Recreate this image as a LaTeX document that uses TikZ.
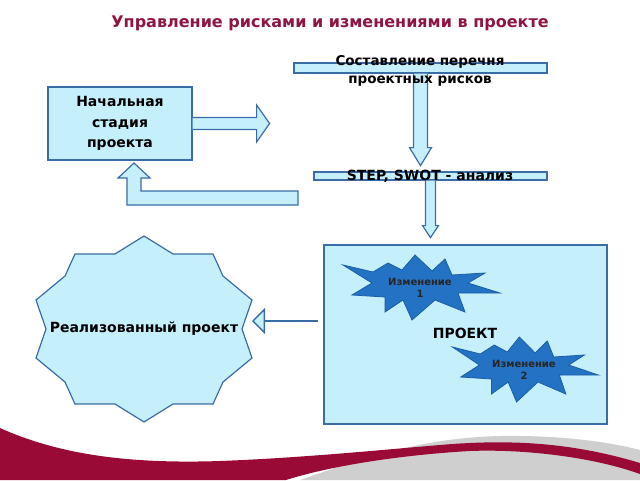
\documentclass[tikz,border=0pt]{standalone}
\usepackage{fontspec}
\setmainfont{DejaVu Sans}
\usetikzlibrary{arrows.meta,positioning}

\definecolor{lightcyan}{HTML}{C6EFFC}
\definecolor{edgeblue}{HTML}{3A6CA6}
\definecolor{burstblue}{HTML}{2472C4}
\definecolor{burstedge}{HTML}{1B5EA6}
\definecolor{titlered}{HTML}{8E1443}
\definecolor{wavered}{HTML}{990A36}
\definecolor{wavegray}{HTML}{CFCFCF}

\begin{document}
\begin{tikzpicture}[x=1pt,y=-1pt,font=\bfseries\fontsize{14}{20.5}\selectfont,
    box/.style={draw=edgeblue,fill=lightcyan,line width=1.2pt,inner sep=0pt},
    blockarrow/.style={draw=edgeblue,fill=lightcyan,line width=1.2pt},
    burst/.style={draw=burstedge,fill=burstblue,line width=0.8pt},
    label/.style={align=center,inner sep=0pt},
    small/.style={font=\bfseries\fontsize{10}{11.5}\selectfont,text=black!85}]

\useasboundingbox (0,0) rectangle (640,480);

% bottom wave
\fill[wavegray] (300,480) .. controls (380,452) and (430,438) .. (500,436) .. controls (560,435) and (610,442) .. (640,450) -- (640,480) -- cycle;
\fill[wavered] (0,428) .. controls (60,455) and (130,464) .. (220,461) .. controls (300,458) and (380,450) .. (440,445) .. controls (520,438) and (580,445) .. (640,463) -- (640,474) .. controls (590,456) and (520,449) .. (470,451) .. controls (400,455) and (330,466) .. (286,480) -- (0,480) -- cycle;

\node[text=titlered,font=\bfseries\fontsize{16}{19}\selectfont] (title) at (330,23) {Управление рисками и изменениями в проекте};

% start box and arrows
\node[box,minimum width=144,minimum height=73,align=center] (start) at (120,123.5) {Начальная\\стадия\\проекта};
\draw[blockarrow,shift={(start.east)}] (0,-6) -- (64,-6) -- (64,-18.5) -- (77,0) -- (64,18.5) -- (64,6) -- (0,6);

\coordinate (back) at (298,198);
\draw[blockarrow,shift={(back)}] (0,-7) -- (-157,-7) -- (-157,-20) -- (-148,-20) -- (-164,-35) -- (-180,-20) -- (-171,-20) -- (-171,7) -- (0,7) -- cycle;

% risk list and analysis
\node[box,minimum width=253,minimum height=10] (lbar) at (420.5,68) {};
\draw[blockarrow,shift={(lbar.south)}] (-7,0) -- (-7,74) -- (-11,74) -- (0,92) -- (11,74) -- (7,74) -- (7,0);
\node[label,font=\bfseries\fontsize{13.5}{18}\selectfont] (ltext) at (420,70.5) {Составление перечня\\проектных рисков};

\node[box,minimum width=233,minimum height=8] (sbar) at (430.5,176) {};
\draw[blockarrow,shift={(sbar.south)}] (-5,0) -- (-5,45) -- (-8,45) -- (0,57) -- (8,45) -- (5,45) -- (5,0);
\node[label] (stext) at (430,176) {STEP, SWOT - анализ};

% project
\node[box,minimum width=283,minimum height=179] (proj) at (465.5,334.5) {};
\node[label] (ptext) at (465,333.5) {ПРОЕКТ};

\coordinate (c1) at (420,288);
\draw[burst,shift={(c1)}] (-77,-23) -- (-47,-16) -- (-32,-25) -- (-18,-18) -- (-5,-33) -- (12,-17) -- (25,-29) -- (32,-13) -- (65,-15) -- (48,-5) -- (80,5) -- (38,5) -- (45,24) -- (15,12) -- (-8,32) -- (-17,12) -- (-35,24) -- (-35,9) -- (-68,7) -- (-48,-5) -- cycle;
\node[label,small] (ch1) at (c1) {Изменение\\1};

\coordinate (c2) at (524,370);
\draw[burst,shift={(c2)},xscale=0.93] (-77,-23) -- (-47,-16) -- (-32,-25) -- (-18,-18) -- (-5,-33) -- (12,-17) -- (25,-29) -- (32,-13) -- (65,-15) -- (48,-5) -- (80,5) -- (38,5) -- (45,24) -- (15,12) -- (-8,32) -- (-17,12) -- (-35,24) -- (-35,9) -- (-68,7) -- (-48,-5) -- cycle;
\node[label,small] (ch2) at (c2) {Изменение\\2};

% finished project
\coordinate (c3) at (144,329);
\draw[box,shift={(c3)}] (0,-93) -- (29,-75) -- (69,-75) -- (79,-53) -- (108,-29) -- (98,0) -- (108,29) -- (79,53) -- (69,75) -- (29,75) -- (0,93) -- (-29,75) -- (-69,75) -- (-79,53) -- (-108,29) -- (-98,0) -- (-108,-29) -- (-79,-53) -- (-69,-75) -- (-29,-75) -- cycle;
\node[label] (done) at (c3) {Реализованный проект};

\coordinate (pa) at (318,321);
\coordinate (pb) at (252,321);
\draw[edgeblue,line width=2.5pt,-{Triangle[open,fill=lightcyan,length=13pt,width=26pt,line width=1.4pt]}] (pa) -- (pb);

\end{tikzpicture}
\end{document}
